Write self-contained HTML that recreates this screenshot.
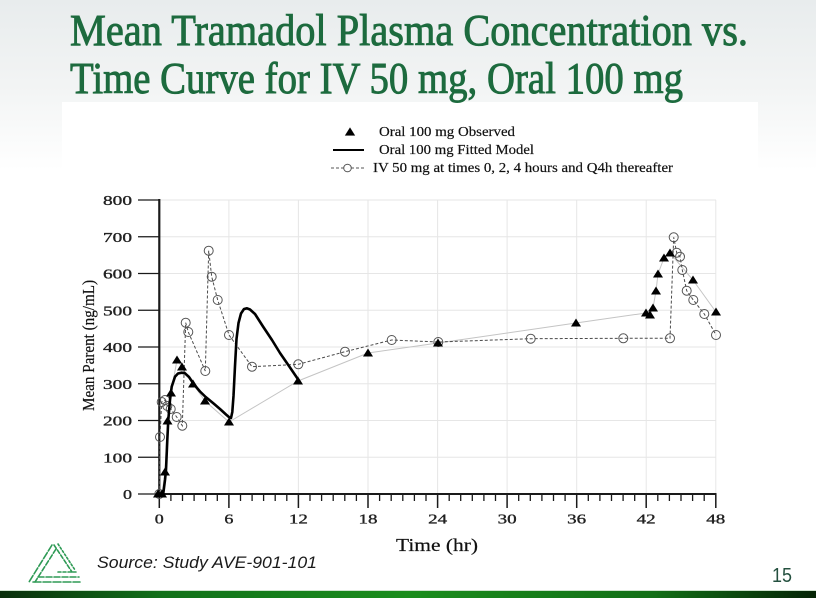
<!DOCTYPE html>
<html>
<head>
<meta charset="utf-8">
<style>
html,body{margin:0;padding:0;background:#fff;}
body{width:816px;height:612px;overflow:hidden;}
svg{display:block;}
</style>
</head>
<body>
<svg width="816" height="612" viewBox="0 0 816 612" xmlns="http://www.w3.org/2000/svg">
  <defs>
    <linearGradient id="bg" x1="0" y1="0" x2="0" y2="1">
      <stop offset="0" stop-color="#e8eced"/>
      <stop offset="0.5" stop-color="#f2f4f4"/>
      <stop offset="1" stop-color="#ffffff"/>
    </linearGradient>
    <linearGradient id="bar" x1="0" y1="0" x2="1" y2="0">
      <stop offset="0" stop-color="#0a2f0c"/>
      <stop offset="0.2" stop-color="#12711a"/>
      <stop offset="0.5" stop-color="#1b8d1d"/>
      <stop offset="0.8" stop-color="#136f17"/>
      <stop offset="1" stop-color="#052406"/>
    </linearGradient>
  </defs>

  <!-- slide background -->
  <rect x="0" y="0" width="816" height="612" fill="#ffffff"/>
  <rect x="0" y="0" width="816" height="170" fill="url(#bg)"/>
  <!-- chart white box -->
  <rect x="62" y="102" width="696" height="460" fill="#ffffff"/>

  <!-- title -->
  <g font-family="'Liberation Serif', 'DejaVu Serif', serif" font-size="44" fill="#1d6b3e" stroke="#1d6b3e" stroke-width="0.9">
    <text x="70" y="45" textLength="678" lengthAdjust="spacingAndGlyphs">Mean Tramadol Plasma Concentration vs.</text>
    <text x="70" y="93" textLength="613" lengthAdjust="spacingAndGlyphs">Time Curve for IV 50 mg, Oral 100 mg</text>
  </g>

  <!-- legend -->
  <g font-family="'Liberation Serif', serif" font-size="14" fill="#111" stroke="#111" stroke-width="0.2">
    <path d="M350 127.5 L355 135.5 L345 135.5 Z" fill="#000"/>
    <text x="379" y="136" textLength="136" lengthAdjust="spacingAndGlyphs">Oral 100 mg Observed</text>
    <line x1="333" y1="150" x2="364" y2="150" stroke="#000" stroke-width="2"/>
    <text x="379" y="154" textLength="155" lengthAdjust="spacingAndGlyphs">Oral 100 mg Fitted Model</text>
    <line x1="331" y1="168" x2="364" y2="168" stroke="#555" stroke-width="1" stroke-dasharray="3 2"/>
    <circle cx="347.5" cy="168" r="3.8" fill="#fff" stroke="#555" stroke-width="1"/>
    <text x="373" y="172" textLength="300" lengthAdjust="spacingAndGlyphs">IV 50 mg at times 0, 2, 4 hours and Q4h thereafter</text>
  </g>

  <!-- gridlines -->
  <g stroke="#e6e6e6" stroke-width="1" fill="none">
    <path d="M159 200H716M159 236.75H716M159 273.5H716M159 310.25H716M159 347H716M159 383.75H716M159 420.5H716M159 457.25H716"/>
    <path d="M228.9 200V494M298.4 200V494M368 200V494M437.6 200V494M507.1 200V494M576.7 200V494M646.2 200V494M715.8 200V494"/>
  </g>

  <!-- axes -->
  <g stroke="#1a1a1a" fill="none">
    <line x1="159.3" y1="199" x2="159.3" y2="494" stroke-width="2.2"/>
    <line x1="159.3" y1="494" x2="716.5" y2="494" stroke-width="2"/>
    <path stroke-width="1.3" d="M138 200H159M138 236.75H159M138 273.5H159M138 310.25H159M138 347H159M138 383.75H159M138 420.5H159M138 457.25H159M138 494H159"/>
    <path stroke-width="1.3" d="M170.9 494V501M182.5 494V501M194.1 494V501M205.7 494V501M217.3 494V501M240.5 494V501M252.1 494V501M263.6 494V501M275.2 494V501M286.8 494V501M310 494V501M321.6 494V501M333.2 494V501M344.8 494V501M356.4 494V501M379.6 494V501M391.2 494V501M402.8 494V501M414.4 494V501M426 494V501M449.2 494V501M460.7 494V501M472.3 494V501M483.9 494V501M495.5 494V501M518.7 494V501M530.3 494V501M541.9 494V501M553.5 494V501M565.1 494V501M588.3 494V501M599.9 494V501M611.5 494V501M623.1 494V501M634.7 494V501M657.8 494V501M669.4 494V501M681 494V501M692.6 494V501M704.2 494V501"/>
    <path stroke-width="1.5" d="M159.3 494V508M228.9 494V508M298.4 494V508M368 494V508M437.6 494V508M507.1 494V508M576.7 494V508M646.2 494V508M715.8 494V508"/>
  </g>

  <!-- y tick labels -->
  <g font-family="'Liberation Serif', serif" font-size="14" fill="#222" stroke="#222" stroke-width="0.35" text-anchor="end">
    <text x="132" y="205" textLength="29" lengthAdjust="spacingAndGlyphs">800</text>
    <text x="132" y="241.75" textLength="29" lengthAdjust="spacingAndGlyphs">700</text>
    <text x="132" y="278.5" textLength="29" lengthAdjust="spacingAndGlyphs">600</text>
    <text x="132" y="315.25" textLength="29" lengthAdjust="spacingAndGlyphs">500</text>
    <text x="132" y="352" textLength="29" lengthAdjust="spacingAndGlyphs">400</text>
    <text x="132" y="388.75" textLength="29" lengthAdjust="spacingAndGlyphs">300</text>
    <text x="132" y="425.5" textLength="29" lengthAdjust="spacingAndGlyphs">200</text>
    <text x="132" y="462.25" textLength="29" lengthAdjust="spacingAndGlyphs">100</text>
    <text x="132" y="499" textLength="9" lengthAdjust="spacingAndGlyphs">0</text>
  </g>

  <!-- x tick labels -->
  <g font-family="'Liberation Serif', serif" font-size="14" fill="#222" stroke="#222" stroke-width="0.35">
    <text x="154.8" y="523.5" textLength="9" lengthAdjust="spacingAndGlyphs">0</text>
    <text x="224.4" y="523.5" textLength="9" lengthAdjust="spacingAndGlyphs">6</text>
    <text x="288.9" y="523.5" textLength="19" lengthAdjust="spacingAndGlyphs">12</text>
    <text x="358.5" y="523.5" textLength="19" lengthAdjust="spacingAndGlyphs">18</text>
    <text x="428.1" y="523.5" textLength="19" lengthAdjust="spacingAndGlyphs">24</text>
    <text x="497.6" y="523.5" textLength="19" lengthAdjust="spacingAndGlyphs">30</text>
    <text x="567.2" y="523.5" textLength="19" lengthAdjust="spacingAndGlyphs">36</text>
    <text x="636.7" y="523.5" textLength="19" lengthAdjust="spacingAndGlyphs">42</text>
    <text x="706.3" y="523.5" textLength="19" lengthAdjust="spacingAndGlyphs">48</text>
  </g>

  <!-- axis titles -->
  <text x="396" y="551" font-family="'Liberation Serif', serif" font-size="18" fill="#111" stroke="#111" stroke-width="0.2" textLength="82" lengthAdjust="spacingAndGlyphs">Time (hr)</text>
  <text transform="translate(94,411) rotate(-90)" x="0" y="0" font-family="'Liberation Serif', serif" font-size="17" fill="#111" stroke="#111" stroke-width="0.2" textLength="131" lengthAdjust="spacingAndGlyphs">Mean Parent (ng/mL)</text>

  <!-- observed connecting gray line -->
  <polyline fill="none" stroke="#c4c4c4" stroke-width="1"
    points="158,494 162,494 165,472 167.5,421 171,393 177,360 182,367 193,384 205,401 229,422 298,381 368,353 438,343 576,323 646,313 650,315 653,308 656,291 658,274 664,258 670,253 693,280 716,312"/>

  <!-- IV dashed series -->
  <polyline fill="none" stroke="#4a4a4a" stroke-width="1" stroke-dasharray="3 2"
    points="159.3,494 160,437 161.7,402 165,400 167.3,406 170.7,409 176.7,417 182.3,425.7 185.7,322.7 188.3,332 205.3,371 208.7,250.7 211.7,276.7 217.7,300 229,335 252,366.7 298.3,364.3 345,351.7 391.7,340 438.3,342 530.7,338.7 623.3,338.3 670,338.3 673.7,237.3 676.7,252.7 680,256.7 682.3,270 686.7,290.7 693.3,300 704.3,314 716,335"/>
  <g fill="none" stroke="#555" stroke-width="1">
    <circle cx="159.3" cy="494" r="4.5"/>
    <circle cx="160" cy="437" r="4.5"/>
    <circle cx="161.7" cy="402" r="4.5"/>
    <circle cx="165" cy="400" r="4.5"/>
    <circle cx="167.3" cy="406" r="4.5"/>
    <circle cx="170.7" cy="409" r="4.5"/>
    <circle cx="176.7" cy="417" r="4.5"/>
    <circle cx="182.3" cy="425.7" r="4.5"/>
    <circle cx="185.7" cy="322.7" r="4.5"/>
    <circle cx="188.3" cy="332" r="4.5"/>
    <circle cx="205.3" cy="371" r="4.5"/>
    <circle cx="208.7" cy="250.7" r="4.5"/>
    <circle cx="211.7" cy="276.7" r="4.5"/>
    <circle cx="217.7" cy="300" r="4.5"/>
    <circle cx="229" cy="335" r="4.5"/>
    <circle cx="252" cy="366.7" r="4.5"/>
    <circle cx="298.3" cy="364.3" r="4.5"/>
    <circle cx="345" cy="351.7" r="4.5"/>
    <circle cx="391.7" cy="340" r="4.5"/>
    <circle cx="438.3" cy="342" r="4.5"/>
    <circle cx="530.7" cy="338.7" r="4.5"/>
    <circle cx="623.3" cy="338.3" r="4.5"/>
    <circle cx="670" cy="338.3" r="4.5"/>
    <circle cx="673.7" cy="237.3" r="4.5"/>
    <circle cx="676.7" cy="252.7" r="4.5"/>
    <circle cx="680" cy="256.7" r="4.5"/>
    <circle cx="682.3" cy="270" r="4.5"/>
    <circle cx="686.7" cy="290.7" r="4.5"/>
    <circle cx="693.3" cy="300" r="4.5"/>
    <circle cx="704.3" cy="314" r="4.5"/>
    <circle cx="716" cy="335" r="4.5"/>
  </g>

  <!-- fitted model -->
  <polyline fill="none" stroke="#000" stroke-width="2.6" stroke-linejoin="round" stroke-linecap="round"
    points="160,494.3 163.3,493.3 165,480 166,470 167.3,440 168.3,420 170,400 171.7,386.7 175,376.7 178,373.5 181.7,372.7 185,373.3 189,377 194,384.5 200,391.5 205.7,397 213.3,403.3 220,409 226,414.5 229.5,417.5 231,418 232.3,412 233.5,396 235,366 236.5,339 238.5,323 241,313.5 244,309 247,308.3 250,309.5 255,314 263,326.5 272,340 280,353 290,367.5 298.5,380"/>

  <!-- observed triangles -->
  <g fill="#000">
    <path d="M158 489.5L163 497.5L153 497.5Z"/>
    <path d="M162 489.5L167 497.5L157 497.5Z"/>
    <path d="M165 467.5L170 475.5L160 475.5Z"/>
    <path d="M167.5 416.5L172.5 424.5L162.5 424.5Z"/>
    <path d="M171 388.5L176 396.5L166 396.5Z"/>
    <path d="M177 355.5L182 363.5L172 363.5Z"/>
    <path d="M182 362.5L187 370.5L177 370.5Z"/>
    <path d="M193 379.5L198 387.5L188 387.5Z"/>
    <path d="M205 396.5L210 404.5L200 404.5Z"/>
    <path d="M229 417.5L234 425.5L224 425.5Z"/>
    <path d="M298 376.5L303 384.5L293 384.5Z"/>
    <path d="M368 348.5L373 356.5L363 356.5Z"/>
    <path d="M438 338.5L443 346.5L433 346.5Z"/>
    <path d="M576 318.5L581 326.5L571 326.5Z"/>
    <path d="M646 308.5L651 316.5L641 316.5Z"/>
    <path d="M650 310.5L655 318.5L645 318.5Z"/>
    <path d="M653 303.5L658 311.5L648 311.5Z"/>
    <path d="M656 286.5L661 294.5L651 294.5Z"/>
    <path d="M658 269.5L663 277.5L653 277.5Z"/>
    <path d="M664 253.5L669 261.5L659 261.5Z"/>
    <path d="M670 248.5L675 256.5L665 256.5Z"/>
    <path d="M693 275.5L698 283.5L688 283.5Z"/>
    <path d="M716 307.5L721 315.5L711 315.5Z"/>
  </g>

  <!-- logo -->
  <g stroke="#2e9a55" stroke-width="1.6" fill="none" stroke-linecap="round">
    <line x1="52" y1="545" x2="29" y2="582" stroke-dasharray="7 2"/>
    <line x1="56" y1="549" x2="35" y2="582" stroke-dasharray="5 2"/>
    <line x1="54" y1="545" x2="72" y2="572" stroke-dasharray="4 2"/>
    <line x1="58" y1="544" x2="75" y2="570" stroke-dasharray="2 2"/>
    <line x1="33" y1="582" x2="80" y2="582" stroke-dasharray="8 2"/>
    <line x1="38" y1="577" x2="79" y2="577" stroke-dasharray="6 2"/>
    <line x1="58" y1="572" x2="77" y2="572" stroke-dasharray="3 2"/>
  </g>

  <!-- source -->
  <text x="97" y="568" font-family="'Liberation Sans', sans-serif" font-style="italic" font-size="17" fill="#1a1a1a" textLength="220" lengthAdjust="spacingAndGlyphs">Source: Study AVE-901-101</text>

  <!-- page number -->
  <text x="772" y="582" font-family="'Liberation Sans', sans-serif" font-size="20" fill="#24503f" textLength="20" lengthAdjust="spacingAndGlyphs">15</text>

  <!-- bottom bar -->
  <rect x="0" y="590" width="816" height="1" fill="#cfe3cf"/>
  <rect x="0" y="591" width="816" height="7" fill="url(#bar)"/>
</svg>
</body>
</html>
